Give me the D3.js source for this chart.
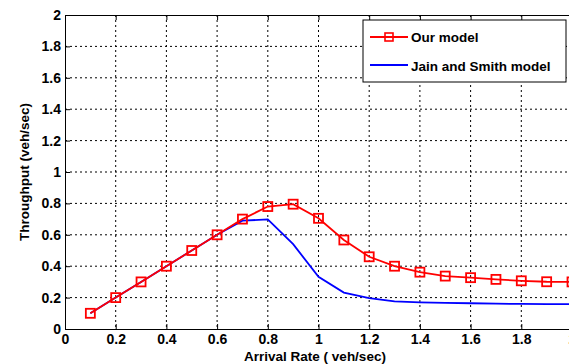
<!DOCTYPE html>
<html>
<head>
<meta charset="utf-8">
<script src="https://cdn.jsdelivr.net/npm/d3@7"></script>
<style>
  body { margin: 0; background: #fff; }
  svg { display: block; }
  text { font-family: "Liberation Sans", Arial, sans-serif; font-weight: bold; fill: #000; }
</style>
</head>
<body>
<div id="chart"></div>
<script>
// data
var arrivalRate = [0.1, 0.2, 0.3, 0.4, 0.5, 0.6, 0.7, 0.8, 0.9, 1.0, 1.1, 1.2, 1.3, 1.4, 1.5, 1.6, 1.7, 1.8, 1.9, 2.0];
var ourModel = [0.1, 0.2, 0.3, 0.4, 0.5, 0.6, 0.7, 0.78, 0.795, 0.705, 0.567, 0.46, 0.40, 0.362, 0.337, 0.327, 0.316, 0.307, 0.301, 0.30];
var jainSmith = [0.1, 0.2, 0.3, 0.4, 0.5, 0.6, 0.69, 0.698, 0.54, 0.333, 0.232, 0.196, 0.176, 0.17, 0.166, 0.164, 0.161, 0.16, 0.159, 0.158];
var xTicks = [0, 0.2, 0.4, 0.6, 0.8, 1, 1.2, 1.4, 1.6, 1.8, 2];
var yTicks = [0, 0.2, 0.4, 0.6, 0.8, 1, 1.2, 1.4, 1.6, 1.8, 2];
var seriesNames = ["Our model", "Jain and Smith model"];

const width = 569;
const height = 364;
const padding = { top: 15, left: 65 };
const plotW = 507;
const plotH = 314;

const xScale = d3.scaleLinear().domain([0, 2]).range([0, plotW]);
const yScale = d3.scaleLinear().domain([0, 2]).range([plotH, 0]);

var svg = d3.select("#chart").append("svg")
  .attr("width", width)
  .attr("height", height);

var g = svg.append("g").attr("transform", "translate(" + padding.left + "," + padding.top + ")");

// grid
g.append("g").selectAll("line")
  .data(xTicks.slice(1, -1))
  .enter().append("line")
  .attr("x1", d => xScale(d)).attr("x2", d => xScale(d))
  .attr("y1", 0).attr("y2", plotH)
  .attr("stroke", "#000").attr("stroke-width", 1)
  .attr("stroke-dasharray", "2,3");

g.append("g").selectAll("line")
  .data(yTicks.slice(1, -1))
  .enter().append("line")
  .attr("x1", 0).attr("x2", plotW)
  .attr("y1", d => yScale(d)).attr("y2", d => yScale(d))
  .attr("stroke", "#000").attr("stroke-width", 1)
  .attr("stroke-dasharray", "2,3");

// axes, ticks pointing inward
var xAxis = g.append("g").attr("transform", "translate(0," + plotH + ")")
  .call(d3.axisBottom(xScale).tickValues(xTicks).tickSize(-5).tickPadding(5).tickFormat(d3.format("")));
var yAxis = g.append("g")
  .call(d3.axisLeft(yScale).tickValues(yTicks).tickSize(-5).tickPadding(4).tickFormat(d3.format("")));
var xTop = g.append("g")
  .call(d3.axisTop(xScale).tickValues(xTicks).tickSize(-5).tickFormat(""));

[xAxis, yAxis, xTop].forEach(function(a) {
  a.select(".domain").attr("stroke", "#000").attr("stroke-width", 1);
  a.selectAll(".tick line").attr("stroke", "#000");
  a.selectAll(".tick text").style("font-size", "14px").style("font-family", "Liberation Sans, Arial, sans-serif").style("font-weight", "bold");
});

// lines
var line = d3.line()
  .x((d, i) => xScale(arrivalRate[i]))
  .y(d => yScale(d));

g.append("path")
  .datum(jainSmith)
  .attr("fill", "none")
  .attr("stroke", "#0000ff")
  .attr("stroke-width", 1.8)
  .attr("d", line);

g.append("path")
  .datum(ourModel)
  .attr("fill", "none")
  .attr("stroke", "#ff0000")
  .attr("stroke-width", 1.8)
  .attr("d", line);

var ms = 9;
g.append("g").selectAll("rect")
  .data(ourModel)
  .enter().append("rect")
  .attr("x", (d, i) => xScale(arrivalRate[i]) - ms / 2)
  .attr("y", d => yScale(d) - ms / 2)
  .attr("width", ms).attr("height", ms)
  .attr("fill", "none")
  .attr("stroke", "#ff0000")
  .attr("stroke-width", 1.8);

// axis labels
svg.append("text")
  .attr("x", 315).attr("y", 361)
  .attr("text-anchor", "middle")
  .style("font-size", "13.5px")
  .text("Arrival Rate ( veh/sec)");

svg.append("text")
  .attr("transform", "translate(29," + (padding.top + plotH / 2) + ") rotate(-90)")
  .attr("text-anchor", "middle")
  .style("font-size", "13.5px")
  .text("Throughput (veh/sec)");

// legend
var lg = svg.append("g").attr("transform", "translate(363,20)");
lg.append("rect")
  .attr("width", 203).attr("height", 62)
  .attr("fill", "#fff").attr("stroke", "#000").attr("stroke-width", 1);

lg.append("line").attr("x1", 7).attr("x2", 45).attr("y1", 17).attr("y2", 17)
  .attr("stroke", "#ff0000").attr("stroke-width", 1.8);
lg.append("rect").attr("x", 22).attr("y", 13).attr("width", 8).attr("height", 8)
  .attr("fill", "none").attr("stroke", "#ff0000").attr("stroke-width", 1.6);
lg.append("line").attr("x1", 7).attr("x2", 45).attr("y1", 45).attr("y2", 45)
  .attr("stroke", "#0000ff").attr("stroke-width", 1.8);

lg.selectAll("text.lbl")
  .data(seriesNames)
  .enter().append("text")
  .attr("class", "lbl")
  .attr("x", 48)
  .attr("y", (d, i) => 22 + i * 29)
  .style("font-size", "13.5px")
  .text(d => d);
</script>
</body>
</html>
